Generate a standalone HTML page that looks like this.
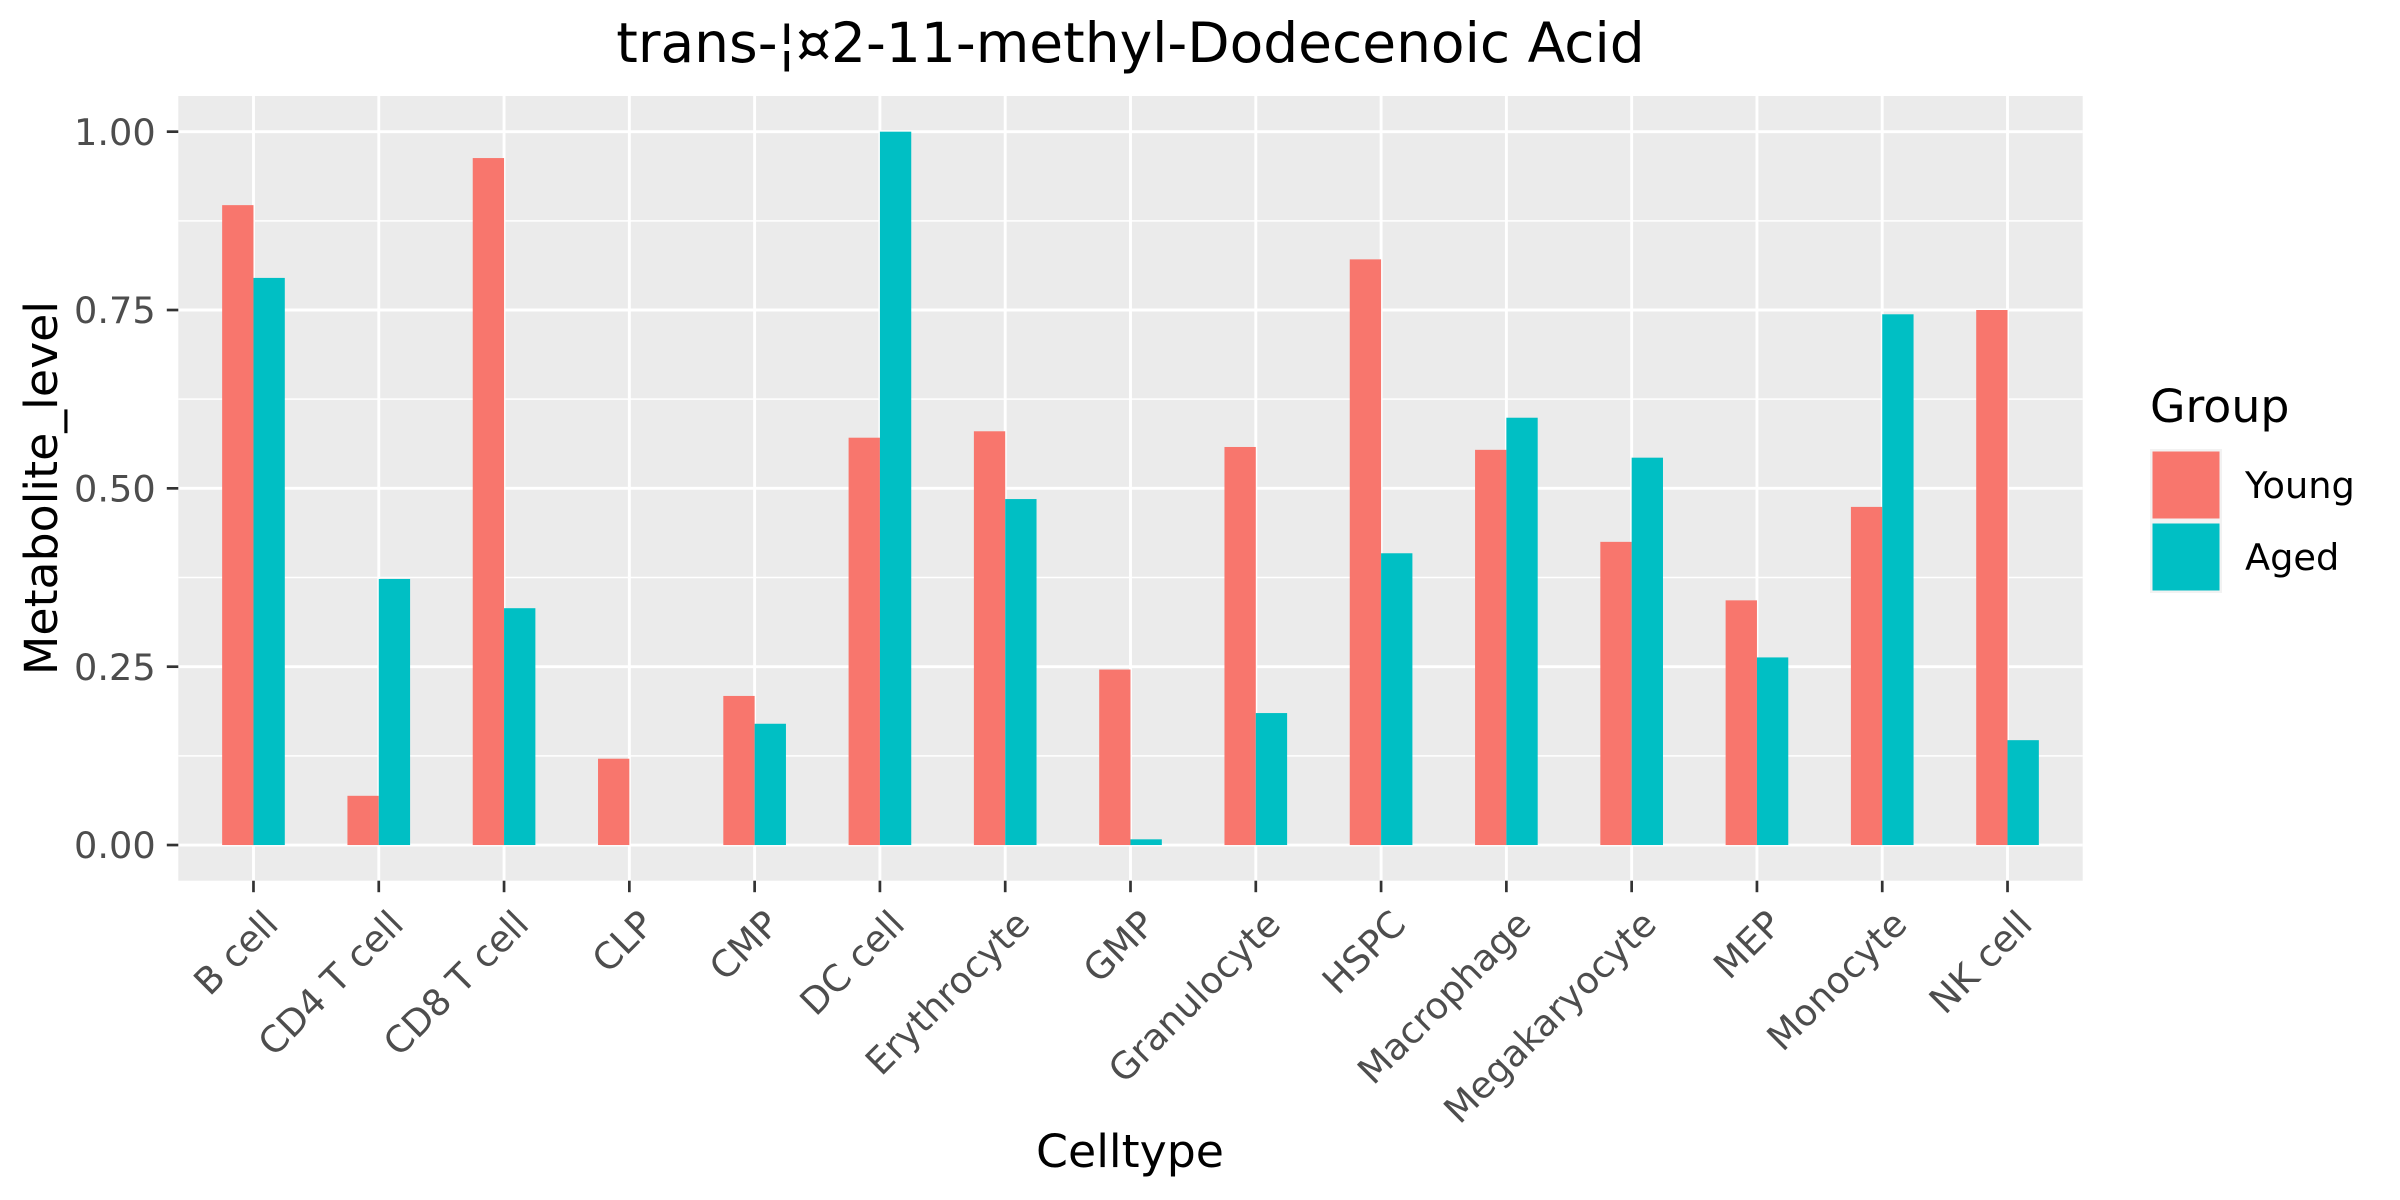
<!DOCTYPE html>
<html><head><meta charset="utf-8"><style>
html,body{margin:0;padding:0;background:#fff;}
svg{display:block;font-family:"DejaVu Sans","Liberation Sans",sans-serif;}
</style></head><body>
<svg id="chart" width="2400" height="1200" viewBox="0 0 2400 1200" xmlns="http://www.w3.org/2000/svg">
<rect x="0" y="0" width="2400" height="1200" fill="#fff"/>
<text x="1130.5" y="62" text-anchor="middle" font-size="55" fill="#000">trans-¦¤2-11-methyl-Dodecenoic Acid</text>
<rect x="178.3" y="96" width="1904.4" height="784.7" fill="#EBEBEB"/>
<g id="grid"></g>
<g id="bars"></g>
<g id="axes"></g>
<text transform="translate(57,488) rotate(-90)" text-anchor="middle" font-size="45.8" fill="#000">Metabolite_level</text>
<text x="1130" y="1167" text-anchor="middle" font-size="45.8" fill="#000">Celltype</text>
<g>
<text x="2150" y="422" font-size="45.8" fill="#000">Group</text>
<rect x="2150" y="449" width="72" height="144" fill="#F2F2F2"/>
<rect x="2152.5" y="451.5" width="67" height="67" fill="#F8766D"/>
<rect x="2152.5" y="523.5" width="67" height="67" fill="#00BFC4"/>
<text x="2245" y="498" font-size="36.7" fill="#000">Young</text>
<text x="2245" y="570" font-size="36.7" fill="#000">Aged</text>
</g>
</svg>
<script>
const categories = ["B cell","CD4 T cell","CD8 T cell","CLP","CMP","DC cell","Erythrocyte","GMP","Granulocyte","HSPC","Macrophage","Megakaryocyte","MEP","Monocyte","NK cell"];
const youngValues = [0.897,0.069,0.963,0.121,0.209,0.571,0.580,0.246,0.558,0.821,0.554,0.425,0.343,0.474,0.750];
const agedValues = [0.795,0.373,0.332,0.000,0.170,1.000,0.485,0.008,0.185,0.409,0.599,0.543,0.263,0.744,0.147];
const yTicks = [0, 0.25, 0.5, 0.75, 1.0];
const yTickLabels = ["0.00","0.25","0.50","0.75","1.00"];

const NS = "http://www.w3.org/2000/svg";
const panelL = 178.3, panelR = 2082.7, panelT = 96, panelB = 880.7;
const yMin = -0.05, yMax = 1.05;
function yScale(v){ return panelB - (v - yMin) / (yMax - yMin) * (panelB - panelT); }
const nCat = categories.length;
const step = (panelR - panelL) / (nCat - 1 + 1.2);
function xScale(i){ return panelL + (0.6 + i) * step; }
const barW = step * 0.25;

function mk(tag, attrs, parent){
  const e = document.createElementNS(NS, tag);
  for (const k in attrs) e.setAttribute(k, attrs[k]);
  parent.appendChild(e);
  return e;
}
const grid = document.getElementById('grid');
const bars = document.getElementById('bars');
const axes = document.getElementById('axes');

for (let i = 0; i < yTicks.length - 1; i++) {
  const v = (yTicks[i] + yTicks[i+1]) / 2;
  const y = yScale(v);
  const l = mk('line', {x1: panelL, x2: panelR, y1: y, y2: y, stroke: '#fff', 'stroke-width': 1.5}, grid);
  
  
}
yTicks.forEach((v, i) => {
  const y = yScale(v);
  const l = mk('line', {x1: panelL, x2: panelR, y1: y, y2: y, stroke: '#fff', 'stroke-width': 2.9}, grid);
  
  
  const t = mk('line', {x1: panelL - 11.5, x2: panelL, y1: y, y2: y, stroke: '#333', 'stroke-width': 2.7}, axes);
  
  
  const tx = mk('text', {x: 155.7, y: y + 13.2, 'text-anchor': 'end', 'font-size': 36.7, fill: '#4D4D4D'}, axes);
  tx.textContent = yTickLabels[i];
  
  
});
categories.forEach((c, i) => {
  const x = xScale(i);
  const l = mk('line', {x1: x, x2: x, y1: panelT, y2: panelB, stroke: '#fff', 'stroke-width': 2.9}, grid);
  
  
  const t = mk('line', {x1: x, x2: x, y1: panelB, y2: panelB + 11.5, stroke: '#333', 'stroke-width': 2.7}, axes);
  
  
  const tx = mk('text', {transform: 'translate(' + (x + 8) + ',' + (panelB + 27) + ') rotate(-45)', 'text-anchor': 'end', 'font-size': 36.7, fill: '#4D4D4D', dy: '0.72em'}, axes);
  tx.textContent = c;
  
  
});
const y0 = yScale(0);
categories.forEach((c, i) => {
  const x = xScale(i);
  const yv = youngValues[i], av = agedValues[i];
  const r1 = mk('rect', {x: x - barW, y: yScale(yv), width: barW, height: Math.max(0, y0 - yScale(yv)), fill: '#F8766D'}, bars);
  
  
  const r2 = mk('rect', {x: x, y: yScale(av), width: barW, height: Math.max(0, y0 - yScale(av)), fill: '#00BFC4'}, bars);
  
  
});
</script>
</body></html>
